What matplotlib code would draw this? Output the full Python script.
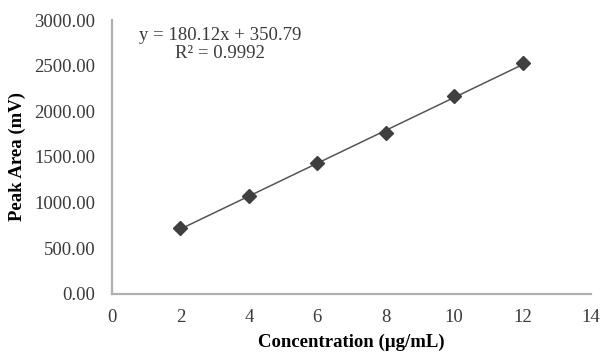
import numpy as np
import matplotlib.pyplot as plt

plt.rcParams['font.family'] = ['Liberation Serif', 'DejaVu Serif']

# calibration data
conc = [2, 4, 6, 8, 10, 12]
peak_area = [720, 1075, 1436, 1762, 2167, 2528]
slope = 180.12
intercept = 350.79
r_squared = 0.9992

fig = plt.figure(figsize=(6.02, 3.54), dpi=100)
ax = fig.add_axes([0.186, 0.1695, 0.796, 0.774])

x_fit = np.array([conc[0], conc[-1]])
ax.plot(x_fit, slope * x_fit + intercept, color='#555555', lw=1.1, zorder=2)
ax.plot(conc, peak_area, linestyle='none', marker='D', markersize=7.5,
        color='#3f3f3f', zorder=3)

ax.set_xlim(0, 14)
ax.set_ylim(0, 3000)
ax.set_xticks(range(0, 15, 2))
ax.set_yticks(range(0, 3001, 500))
ax.set_yticklabels([f"{v:.2f}" for v in range(0, 3001, 500)])
ax.tick_params(axis='y', length=0, labelsize=13.5, colors='#3a3a3a', pad=12)
ax.tick_params(axis='x', length=0, labelsize=13.5, colors='#3a3a3a', pad=11)

for side in ['top', 'right']:
    ax.spines[side].set_visible(False)
for side in ['left', 'bottom']:
    ax.spines[side].set_color('#b0b0b0')
    ax.spines[side].set_linewidth(1.6)

ax.set_xlabel("Concentration (µg/mL)", fontsize=13.5, fontweight='bold', labelpad=5)
ax.set_ylabel("Peak Area (mV)", fontsize=13.5, fontweight='bold', labelpad=6)

ax.text(0.225, 0.975, f"y = {slope}x + {intercept}\nR² = {r_squared}",
        transform=ax.transAxes, ha='center', va='top', fontsize=13.5,
        color='#3a3a3a', linespacing=1.05)

fig.savefig("out.png", dpi=100)
